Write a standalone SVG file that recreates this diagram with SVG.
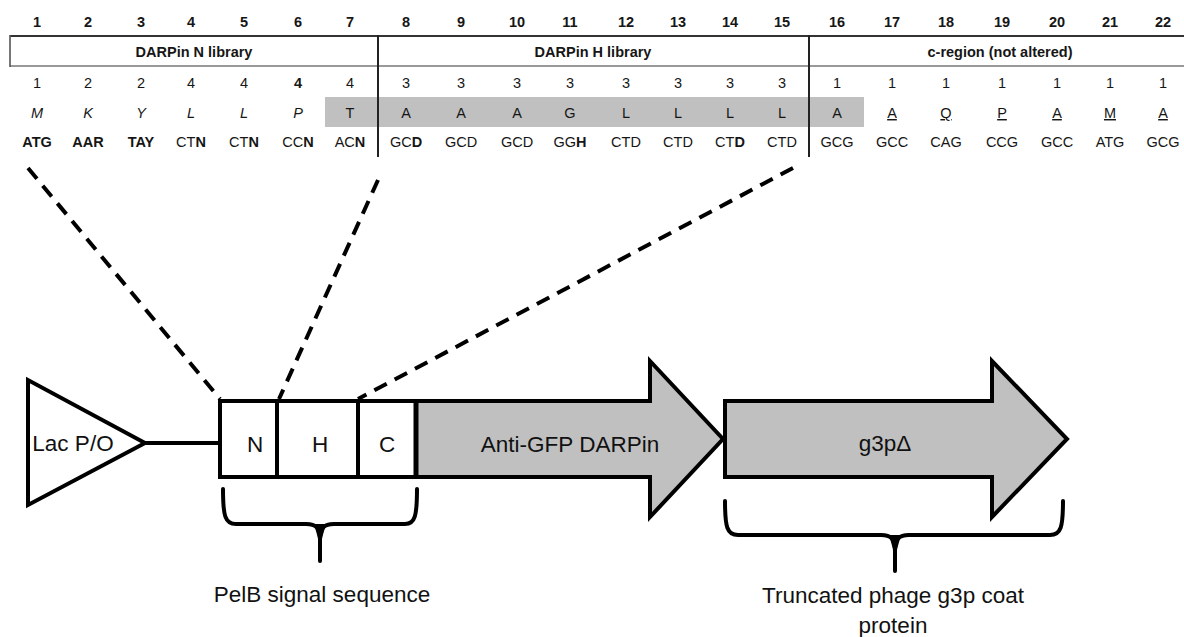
<svg xmlns="http://www.w3.org/2000/svg" width="1184" height="637" viewBox="0 0 1184 637">
  <style>
    .t { font-family: "Liberation Sans", Arial, sans-serif; fill: #161616; text-anchor: middle; }
    .tb { font-size: 14.5px; }
    .b { font-weight: bold; }
    .i { font-style: italic; }
    .u { text-decoration: underline; }
    .lab { font-family: "Liberation Sans", Arial, sans-serif; font-size: 22.5px; fill: #111; text-anchor: middle; }
    .shape { stroke: #000; stroke-width: 4; stroke-linejoin: miter; }
    .dash { fill: none; stroke: #000; stroke-width: 4; stroke-dasharray: 14 9; }
    .brace { fill: none; stroke: #000; stroke-width: 4; stroke-linecap: round; stroke-linejoin: round; }
  </style>

  <!-- Codon table -->
  <g id="codon-table">
    <rect x="325" y="97" width="539" height="30" fill="#c0c0c0"/>
    <line x1="10" y1="36" x2="1184" y2="36" stroke="#333" stroke-width="2.2"/>
    <line x1="10" y1="66" x2="1184" y2="66" stroke="#777" stroke-width="1.6"/>
    <line x1="10" y1="35" x2="10" y2="67" stroke="#555" stroke-width="1.6"/>
    <line x1="378" y1="35" x2="378" y2="157" stroke="#222" stroke-width="2"/>
    <line x1="809" y1="35" x2="809" y2="157" stroke="#222" stroke-width="2"/>

    <g class="t tb b">
      <text x="37" y="27">1</text><text x="88" y="27">2</text><text x="141" y="27">3</text>
      <text x="191" y="27">4</text><text x="244" y="27">5</text><text x="298" y="27">6</text>
      <text x="350" y="27">7</text><text x="406" y="27">8</text><text x="461" y="27">9</text>
      <text x="517" y="27">10</text><text x="570" y="27">11</text><text x="626" y="27">12</text>
      <text x="678" y="27">13</text><text x="730" y="27">14</text><text x="782" y="27">15</text>
      <text x="837" y="27">16</text><text x="892" y="27">17</text><text x="946" y="27">18</text>
      <text x="1002" y="27">19</text><text x="1057" y="27">20</text><text x="1110" y="27">21</text>
      <text x="1163" y="27">22</text>
    </g>

    <g class="t tb b">
      <text x="194" y="57">DARPin N library</text>
      <text x="593" y="57">DARPin H library</text>
      <text x="1000" y="57">c-region (not altered)</text>
    </g>

    <g class="t tb">
      <text x="37" y="88">1</text><text x="88" y="88">2</text><text x="141" y="88">2</text>
      <text x="191" y="88">4</text><text x="244" y="88">4</text><text x="298" y="88" class="b">4</text>
      <text x="350" y="88">4</text><text x="406" y="88">3</text><text x="461" y="88">3</text>
      <text x="517" y="88">3</text><text x="570" y="88">3</text><text x="626" y="88">3</text>
      <text x="678" y="88">3</text><text x="730" y="88">3</text><text x="782" y="88">3</text>
      <text x="837" y="88">1</text><text x="892" y="88">1</text><text x="946" y="88">1</text>
      <text x="1002" y="88">1</text><text x="1057" y="88">1</text><text x="1110" y="88">1</text>
      <text x="1163" y="88">1</text>
    </g>

    <g class="t tb">
      <text x="37" y="118" class="i">M</text><text x="88" y="118" class="i">K</text>
      <text x="141" y="118" class="i">Y</text><text x="191" y="118" class="i">L</text>
      <text x="244" y="118" class="i">L</text><text x="298" y="118" class="i">P</text>
      <text x="350" y="118">T</text><text x="406" y="118">A</text><text x="461" y="118">A</text>
      <text x="517" y="118">A</text><text x="570" y="118">G</text><text x="626" y="118">L</text>
      <text x="678" y="118">L</text><text x="730" y="118">L</text><text x="782" y="118">L</text>
      <text x="837" y="118">A</text>
      <text x="892" y="118" class="u">A</text><text x="946" y="118" class="u">Q</text>
      <text x="1002" y="118" class="u">P</text><text x="1057" y="118" class="u">A</text>
      <text x="1110" y="118" class="u">M</text><text x="1163" y="118" class="u">A</text>
    </g>

    <g class="t tb">
      <text x="37" y="147" class="b">ATG</text><text x="88" y="147" class="b">AAR</text>
      <text x="141" y="147" class="b">TAY</text>
      <text x="191" y="147">CT<tspan class="b">N</tspan></text>
      <text x="244" y="147">CT<tspan class="b">N</tspan></text>
      <text x="298" y="147">CC<tspan class="b">N</tspan></text>
      <text x="350" y="147">AC<tspan class="b">N</tspan></text>
      <text x="406" y="147">GC<tspan class="b">D</tspan></text>
      <text x="461" y="147">GCD</text>
      <text x="517" y="147">GCD</text>
      <text x="570" y="147">GG<tspan class="b">H</tspan></text>
      <text x="626" y="147">CTD</text>
      <text x="678" y="147">CTD</text>
      <text x="730" y="147">CT<tspan class="b">D</tspan></text>
      <text x="782" y="147">CTD</text>
      <text x="837" y="147">GCG</text><text x="892" y="147">GCC</text><text x="946" y="147">CAG</text>
      <text x="1002" y="147">CCG</text><text x="1057" y="147">GCC</text><text x="1110" y="147">ATG</text>
      <text x="1163" y="147">GCG</text>
    </g>
  </g>

  <!-- Zoom-out guide lines from the table to the signal-sequence boxes -->
  <g id="connectors">
    <line class="dash" x1="28" y1="168" x2="220" y2="399"/>
    <line class="dash" x1="378" y1="180" x2="279" y2="399"/>
    <line class="dash" x1="793" y1="168" x2="358" y2="399"/>
    <line x1="145" y1="443" x2="222" y2="443" stroke="#000" stroke-width="4"/>
  </g>

  <g id="lac-po">
    <polygon class="shape" points="28,380 28,505 145,443" fill="#fff"/>
    <text class="lab" x="73" y="451">Lac P/O</text>
  </g>

  <g id="pelb-n">
    <rect class="shape" x="220" y="401" width="57" height="76" fill="#fff"/>
    <text class="lab" x="255" y="452">N</text>
  </g>
  <g id="pelb-h">
    <rect class="shape" x="277" y="401" width="81" height="76" fill="#fff"/>
    <text class="lab" x="320" y="452">H</text>
  </g>
  <g id="pelb-c">
    <rect class="shape" x="358" y="401" width="58" height="76" fill="#fff"/>
    <text class="lab" x="387" y="452">C</text>
  </g>

  <g id="darpin">
    <polygon class="shape" points="416,401 650,401 650,361 723,439 650,517 650,477 416,477" fill="#c0c0c0"/>
    <line x1="416" y1="399" x2="416" y2="479" stroke="#000" stroke-width="5"/>
    <text class="lab" x="570" y="452">Anti-GFP DARPin</text>
  </g>

  <g id="g3p">
    <polygon class="shape" points="725,401 992,401 992,361 1067,439 992,517 992,477 725,477" fill="#c0c0c0"/>
    <text class="lab" x="885" y="451">g3pΔ</text>
  </g>

  <g id="pelb-brace">
    <path class="brace" d="M223,489 C223,516 225,524 236,524 L306,524 C316,524 320,528 320,540 L320,561 M320,540 C320,528 324,524 334,524 L405,524 C415,524 417,516 417,489"/>
    <polygon points="314,524 326,524 321.5,540 318.5,540" fill="#000"/>
    <text class="lab" x="322" y="602">PelB signal sequence</text>
  </g>

  <g id="g3p-brace">
    <path class="brace" d="M725,501 C725,527 727,535 738,535 L881,535 C891,535 895,539 895,551 L895,571 M895,551 C895,539 899,535 909,535 L1050,535 C1061,535 1063,527 1063,501"/>
    <polygon points="889,535 901,535 896.5,551 893.5,551" fill="#000"/>
    <text class="lab" x="893" y="603">Truncated phage g3p coat</text>
    <text class="lab" x="893" y="633">protein</text>
  </g>
</svg>
